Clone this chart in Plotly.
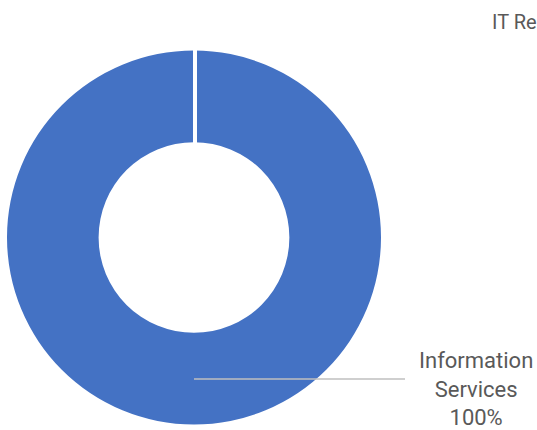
import plotly.graph_objects as go

# Chart data
labels = ["Information Services"]
values = [100]
label_lines = ["Information<br>Services"]
title_text = "IT Re"

W, H = 537, 430
BLUE = "#4472C4"
TEXT = "#595959"
FONT = "Roboto"

def px_x(x):
    return x / W

def px_y(y):
    return 1 - y / H

total = sum(values)

fig = go.Figure()
fig.add_trace(go.Pie(
    labels=labels,
    values=values,
    hole=0.51,
    sort=False,
    direction="clockwise",
    rotation=0,
    textinfo="none",
    hoverinfo="label+percent",
    marker=dict(colors=[BLUE], line=dict(width=0)),
    domain=dict(x=[px_x(7), px_x(381)], y=[px_y(425), px_y(50)]),
    showlegend=False,
))

# White seam at the start of the ring
fig.add_shape(type="line", xref="paper", yref="paper",
              x0=px_x(195), x1=px_x(195), y0=px_y(47), y1=px_y(144),
              line=dict(color="white", width=4))

# Leader line from the ring to the data label
fig.add_shape(type="line", xref="paper", yref="paper",
              x0=px_x(194), x1=px_x(405), y0=px_y(379), y1=px_y(379),
              line=dict(color="#BFBFBF", width=1.5))

for lab, val in zip(label_lines, values):
    pct = round(val / total * 100)
    fig.add_annotation(
        x=px_x(476), y=px_y(346), xref="paper", yref="paper",
        xanchor="center", yanchor="top", showarrow=False, align="center",
        text=f"{lab}<br>{pct}%",
        font=dict(family=FONT, size=22, color=TEXT),
    )

fig.add_annotation(
    x=px_x(490), y=px_y(8), xref="paper", yref="paper",
    xanchor="left", yanchor="top", showarrow=False,
    text=title_text,
    font=dict(family=FONT, size=20, color=TEXT),
)

fig.update_layout(
    width=W, height=H,
    margin=dict(l=0, r=0, t=0, b=0),
    paper_bgcolor="white", plot_bgcolor="white",
)

fig.write_html("out.html")
